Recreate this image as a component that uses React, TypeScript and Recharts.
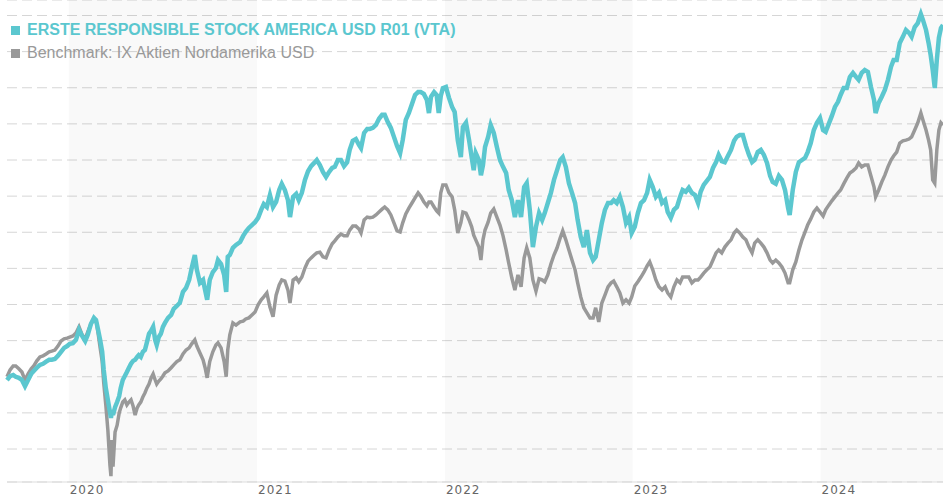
import {
  CartesianGrid,
  Line,
  LineChart,
  ReferenceArea,
  XAxis,
  YAxis,
} from "recharts";

// days since 2019-09-01
const days = [
  2, 8, 14, 19, 25, 31, 37, 43, 49, 54,
  60, 66, 72, 78, 84, 89, 95, 101, 107, 113,
  119, 124, 130, 136, 142, 148, 154, 159, 165, 171,
  175, 179, 183, 187, 190, 194, 198, 202, 204, 206,
  208, 212, 216, 220, 223, 227, 231, 235, 239, 243,
  247, 251, 255, 258, 262, 266, 270, 274, 278, 282,
  286, 290, 293, 297, 301, 305, 309, 315, 321, 326,
  332, 338, 344, 350, 356, 361, 367, 371, 377, 383,
  387, 391, 396, 402, 408, 412, 418, 424, 428, 431,
  435, 441, 447, 455, 461, 466, 472, 478, 484, 490,
  496, 501, 507, 513, 519, 525, 531, 536, 542, 548,
  552, 558, 564, 569, 575, 581, 587, 593, 599, 604,
  610, 616, 622, 628, 634, 639, 645, 651, 657, 663,
  668, 674, 680, 686, 690, 696, 702, 707, 713, 719,
  725, 731, 736, 742, 748, 754, 760, 766, 771, 777,
  783, 789, 795, 801, 806, 812, 818, 822, 826, 832,
  837, 841, 845, 849, 855, 861, 867, 872, 878, 884,
  888, 894, 900, 905, 909, 913, 919, 923, 927, 931,
  937, 942, 948, 954, 960, 966, 972, 977, 983, 989,
  995, 1001, 1007, 1012, 1018, 1024, 1030, 1036, 1042, 1047,
  1053, 1059, 1065, 1071, 1077, 1082, 1088, 1094, 1100, 1106,
  1111, 1117, 1123, 1129, 1135, 1141, 1146, 1152, 1158, 1164,
  1170, 1176, 1181, 1187, 1193, 1199, 1205, 1211, 1216, 1222,
  1228, 1234, 1240, 1246, 1251, 1257, 1263, 1269, 1275, 1281,
  1286, 1292, 1298, 1304, 1310, 1315, 1321, 1327, 1333, 1339,
  1345, 1350, 1356, 1362, 1368, 1374, 1380, 1385, 1391, 1397,
  1403, 1409, 1415, 1420, 1426, 1432, 1438, 1444, 1450, 1455,
  1461, 1467, 1473, 1479, 1485, 1490, 1496, 1502, 1508, 1514,
  1520, 1523, 1529, 1535, 1541, 1547, 1553, 1558, 1564, 1570,
  1576, 1582, 1588, 1593, 1599, 1605, 1611, 1617, 1622, 1628,
  1634, 1640, 1646, 1652, 1657, 1663, 1669, 1675, 1681, 1687,
  1690, 1696, 1702, 1708, 1714, 1720, 1725, 1731, 1737, 1743,
  1749, 1755, 1760, 1766, 1772, 1778, 1782, 1788, 1793, 1797,
  1801, 1805, 1809, 1813, 1817, 1821,
];

const fund = [
  99.1, 100.2, 100.5, 100.0, 99.7, 99.1, 97.4, 99.1, 100.8, 101.6,
  102.5, 103.3, 103.6, 104.2, 104.7, 104.7, 104.9, 105.8, 106.9, 108.0,
  108.5, 109.1, 109.3, 110.2, 113.0, 111.3, 109.9, 111.6, 114.6, 116.3,
  115.7, 113.0, 110.2, 106.9, 101.9, 96.9, 93.6, 90.3, 88.6, 90.8,
  89.4, 91.6, 93.0, 94.6, 96.9, 99.1, 100.2, 101.3, 102.5, 103.6,
  104.4, 104.7, 105.5, 106.0, 105.5, 106.9, 107.4, 109.6, 111.9, 112.7,
  113.8, 110.2, 108.8, 111.0, 111.9, 113.8, 114.9, 116.3, 117.1, 118.8,
  119.6, 120.5, 123.5, 124.6, 126.8, 130.1, 133.7, 129.6, 126.0, 126.8,
  124.0, 121.3, 126.8, 129.0, 130.1, 132.3, 131.2, 128.2, 123.5, 133.2,
  133.7, 135.7, 136.5, 137.3, 139.0, 140.1, 141.2, 142.0, 142.8, 144.0,
  146.2, 147.8, 147.0, 150.3, 147.0, 148.4, 151.7, 153.4, 151.7, 148.9,
  144.2, 149.8, 150.6, 148.9, 150.9, 154.5, 156.9, 158.3, 159.2, 160.0,
  158.6, 156.7, 155.3, 156.7, 157.8, 158.1, 160.0, 160.0, 158.3, 159.4,
  162.8, 165.3, 165.8, 164.2, 163.3, 167.5, 168.6, 168.6, 168.9, 169.7,
  171.4, 172.5, 172.5, 170.5, 168.9, 166.4, 163.9, 161.9, 165.5, 171.1,
  173.0, 175.5, 178.0, 178.8, 178.8, 178.3, 176.6, 173.0, 177.5, 178.8,
  178.0, 173.0, 177.7, 179.9, 180.2, 177.2, 174.7, 173.3, 165.5, 160.8,
  169.1, 170.3, 165.5, 160.8, 157.2, 161.9, 160.0, 155.8, 158.6, 163.6,
  166.4, 169.7, 167.5, 163.6, 160.0, 158.1, 156.4, 151.7, 148.9, 144.2,
  148.9, 144.2, 152.5, 153.6, 146.2, 135.9, 141.5, 145.3, 143.4, 145.3,
  148.1, 150.9, 154.5, 157.2, 160.0, 160.8, 158.1, 153.6, 150.9, 148.1,
  143.4, 138.7, 135.9, 140.6, 134.3, 132.3, 133.2, 137.9, 142.6, 146.2,
  148.1, 148.1, 148.9, 148.1, 149.8, 147.0, 142.6, 144.2, 139.8, 141.5,
  145.3, 148.1, 148.9, 150.9, 154.5, 152.5, 149.8, 150.9, 148.1, 148.9,
  145.6, 144.0, 146.2, 147.0, 149.8, 151.7, 151.2, 152.3, 150.9, 150.3,
  148.1, 151.2, 153.1, 154.2, 155.3, 157.8, 159.4, 161.4, 159.7, 159.4,
  161.1, 162.8, 165.3, 166.4, 166.9, 166.9, 163.9, 161.4, 159.4, 160.0,
  162.2, 162.8, 161.4, 159.2, 155.6, 153.9, 153.4, 155.6, 154.5, 151.7,
  146.7, 144.8, 151.7, 156.7, 159.4, 160.0, 160.6, 162.2, 164.7, 168.3,
  170.3, 171.6, 168.3, 167.8, 170.0, 172.2, 174.7, 176.1, 178.0, 179.9,
  179.9, 183.0, 184.1, 183.0, 182.2, 184.1, 184.9, 184.4, 180.2, 176.6,
  173.0, 175.8, 177.5, 179.4, 182.2, 185.8, 187.7, 187.7, 192.4, 194.1,
  196.0, 195.2, 194.1, 196.8, 197.9, 200.4, 198.8, 196.0, 192.4, 189.1,
  184.9, 179.9, 187.7, 193.8, 196.5, 197.4,
];

const benchmark = [
  100.0, 101.9, 103.0, 103.0, 102.2, 101.3, 99.1, 100.8, 102.2, 103.0,
  104.4, 105.5, 105.8, 106.3, 106.9, 107.1, 107.4, 108.5, 109.9, 110.5,
  110.7, 111.0, 111.3, 112.1, 113.8, 111.6, 110.5, 112.4, 114.6, 116.0,
  115.7, 112.1, 108.0, 104.2, 98.3, 92.2, 85.3, 75.6, 72.5, 82.5,
  75.1, 84.7, 86.6, 90.0, 91.4, 93.0, 93.6, 92.2, 93.0, 93.6,
  91.9, 89.4, 91.4, 92.2, 93.0, 94.4, 95.5, 96.9, 98.0, 99.7,
  100.8, 99.1, 98.0, 98.8, 99.4, 100.2, 101.1, 101.6, 102.5, 103.3,
  104.2, 104.7, 106.3, 107.4, 108.0, 109.1, 110.2, 108.5, 106.6, 104.7,
  102.5, 99.7, 104.2, 106.9, 108.8, 109.4, 108.0, 104.2, 100.0, 107.4,
  111.6, 114.9, 114.3, 115.2, 115.4, 116.0, 116.3, 117.1, 117.9, 119.9,
  121.3, 122.1, 123.2, 119.3, 116.6, 122.6, 125.4, 126.8, 126.5, 124.0,
  120.4, 126.8, 127.4, 126.3, 127.6, 130.1, 132.0, 132.9, 133.7, 134.3,
  134.5, 133.2, 132.9, 135.1, 136.8, 137.6, 138.7, 139.5, 139.0, 139.0,
  140.6, 141.7, 141.7, 140.9, 139.8, 143.4, 144.2, 144.0, 144.2, 144.8,
  145.6, 146.4, 147.0, 146.2, 144.8, 142.6, 140.4, 140.1, 142.6, 145.1,
  146.7, 148.1, 149.5, 150.9, 150.0, 148.4, 147.3, 148.4, 148.4, 147.0,
  145.9, 145.3, 150.9, 153.1, 153.1, 150.9, 149.8, 146.2, 139.8, 142.6,
  145.6, 145.3, 143.4, 141.5, 139.2, 137.9, 135.9, 132.3, 137.9, 140.6,
  142.8, 145.3, 146.4, 144.2, 142.0, 139.0, 135.1, 131.5, 127.4, 124.0,
  128.2, 124.9, 132.9, 135.7, 132.9, 126.8, 123.7, 127.1, 126.8, 126.3,
  128.2, 131.2, 133.7, 135.7, 138.4, 140.4, 137.9, 135.1, 132.3, 129.6,
  126.0, 122.1, 119.1, 117.7, 116.3, 116.3, 119.1, 115.2, 120.4, 122.6,
  124.9, 126.0, 126.5, 124.9, 123.2, 120.4, 121.3, 120.4, 122.1, 125.1,
  126.3, 127.6, 129.0, 130.7, 131.8, 129.6, 126.8, 124.9, 124.0, 124.9,
  123.2, 122.1, 124.9, 126.8, 126.0, 127.6, 127.6, 127.6, 126.0, 126.8,
  126.8, 127.6, 128.7, 129.6, 130.4, 132.3, 134.3, 135.1, 134.3, 135.9,
  137.0, 137.9, 139.8, 140.6, 139.8, 138.7, 137.9, 135.9, 134.3, 137.0,
  137.9, 137.0, 135.9, 134.3, 132.3, 131.5, 132.3, 131.5, 130.4, 128.7,
  126.0, 126.0, 129.6, 131.8, 135.1, 137.9, 140.1, 142.0, 143.7, 145.6,
  146.7, 145.6, 144.5, 146.2, 147.5, 148.7, 149.8, 150.9, 151.7, 153.4,
  155.0, 156.4, 157.0, 157.8, 159.2, 158.1, 158.6, 158.6, 155.6, 152.5,
  149.8, 151.7, 153.9, 155.8, 158.1, 160.0, 161.1, 162.2, 164.7, 165.3,
  165.5, 165.8, 166.4, 168.3, 170.3, 173.0, 171.1, 168.3, 165.5, 162.8,
  154.5, 153.6, 162.8, 168.3, 170.3, 169.7,
];

const yearStarts = [122, 488, 853, 1218, 1583];
const yearLabels = ["2020", "2021", "2022", "2023", "2024"];
const shadedYears = [
  [122, 488],
  [853, 1218],
  [1583, 1821],
];
const gridLevels = [80, 90, 100, 110, 120, 130, 140, 150, 160, 170, 180, 190, 200];

const fundName = "ERSTE RESPONSIBLE STOCK AMERICA USD R01 (VTA)";
const benchName = "Benchmark: IX Aktien Nordamerika USD";

const TEAL = "#5BC7CF";
const GREY = "#999999";

const data = days.map((day, i) => ({ day, fund: fund[i], benchmark: benchmark[i] }));

const YearTick = (props: any) => {
  const { x, y, payload } = props;
  const idx = yearStarts.indexOf(payload.value);
  return (
    <text
      x={x + 1}
      y={y + 12}
      fill="#666"
      fontSize={12}
      fontFamily="DejaVu Sans, Verdana, sans-serif"
      letterSpacing={1}
      textAnchor="start"
    >
      {yearLabels[idx]}
    </text>
  );
};

export default function App() {
  return (
    <div style={{ position: "absolute", left: 0, top: 0, width: 943, height: 500, background: "#fff" }}>
      <LineChart width={943} height={500} data={data} margin={{ top: 0, right: 0, left: 7, bottom: 0 }}>
        {shadedYears.map(([a, b]) => (
          <ReferenceArea key={a} x1={a} x2={b} fill="#000" fillOpacity={0.022} stroke="none" />
        ))}
        <CartesianGrid vertical={false} stroke="#d6d6d6" strokeDasharray="10 5" />
        <XAxis
          dataKey="day"
          type="number"
          domain={[2, 1821]}
          ticks={yearStarts}
          interval={0}
          tickLine={false}
          tickSize={0}
          tickMargin={0}
          axisLine={{ stroke: "#dddddd" }}
          height={18}
          tick={<YearTick />}
        />
        <YAxis hide domain={[70.87, 204.29]} ticks={gridLevels} />
        <Line
          dataKey="benchmark"
          type="linear"
          stroke={GREY}
          strokeWidth={3.5}
          dot={false}
          isAnimationActive={false}
        />
        <Line
          dataKey="fund"
          type="linear"
          stroke={TEAL}
          strokeWidth={4.5}
          dot={false}
          isAnimationActive={false}
        />
      </LineChart>
      <svg
        width={943}
        height={70}
        style={{ position: "absolute", left: 0, top: 0, pointerEvents: "none" }}
      >
        <rect x={11} y={26} width={9} height={9} fill={TEAL} />
        <text x={27} y={35} fill={TEAL} fontSize={16} fontWeight="bold" fontFamily="Liberation Sans, Arial, sans-serif">
          {fundName}
        </text>
        <rect x={11} y={49} width={9} height={9} fill={GREY} />
        <text x={27} y={58} fill={GREY} fontSize={16} fontFamily="Liberation Sans, Arial, sans-serif">
          {benchName}
        </text>
      </svg>
    </div>
  );
}
